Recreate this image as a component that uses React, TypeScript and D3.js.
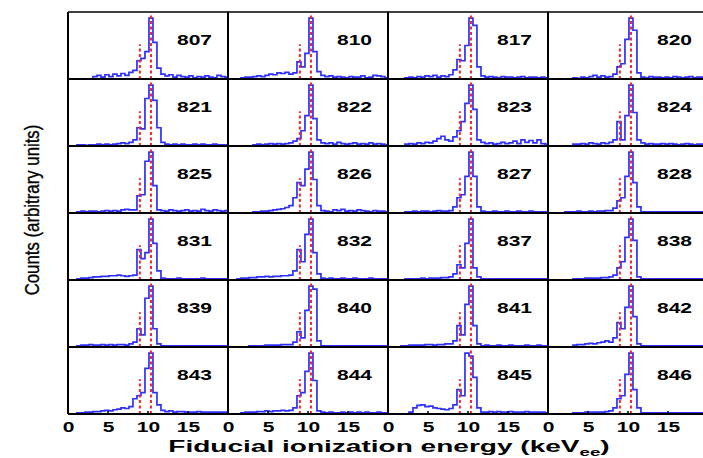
import React from 'react';
import * as d3 from 'd3';

// canvas
const width = 703;
const height = 458;
const left = 68;
const top = 12;
const panelW = 160;
const panelH = 67;
const nCols = 4;

// energy binning (keV)
const binStart = 0.12;
const binWidth = 0.5;
const mainLine = 10.37;
const sideLine = 8.98;
const xTicks = [0, 5, 10, 15];

// run numbers, one per panel
const runs = [807, 810, 817, 820, 821, 822, 823, 824, 825, 826, 827, 828,
  831, 832, 837, 838, 839, 840, 841, 842, 843, 844, 845, 846];

// per run spectra (peak normalised to 100)
const h807 = [0,0,0,0,0,0,4,6,3,7,4,8,5,9,6,11,14,30,34,45,100,60,18,8,5,7,3,6,4,3,5,2,4,3,5,3,2,6,4,3];
const h810 = [0,0,0,2,3,3,4,5,4,6,8,7,10,9,11,8,10,28,20,42,100,45,12,6,4,5,3,4,3,2,4,3,3,5,2,3,6,5,4,2];
const h817 = [0,0,0,0,2,3,2,4,3,5,4,6,3,5,4,7,15,32,30,55,100,88,20,5,3,4,3,2,4,3,3,2,3,4,2,3,3,2,3,2];
const h820 = [0,0,0,0,0,0,2,1,3,2,4,6,3,5,3,4,8,20,25,65,100,80,10,3,2,4,3,3,2,3,2,4,3,2,3,4,2,3,3,2];
const h821 = [0,0,2,2,1,2,2,3,2,3,2,3,4,5,4,6,10,30,28,78,100,75,30,6,3,2,3,2,3,2,2,3,2,3,2,2,3,2,2,2];
const h822 = [0,0,0,0,0,0,2,3,2,3,4,3,4,3,4,5,8,12,25,50,100,45,10,5,4,5,3,6,4,3,4,5,3,4,3,5,3,4,3,2];
const h823 = [0,0,0,0,3,4,3,5,4,6,5,8,12,16,10,8,15,25,40,70,100,60,10,6,4,5,3,4,6,4,5,8,4,10,6,9,5,10,4,3];
const h824 = [0,0,0,0,0,0,3,3,4,3,5,4,3,5,4,6,10,40,10,50,100,55,10,5,3,4,3,3,4,3,4,3,2,3,4,3,2,3,3,2];
const h825 = [0,0,2,3,2,3,3,2,3,4,3,4,3,5,6,5,5,28,30,85,100,45,5,4,3,5,4,3,4,5,3,4,3,6,4,3,5,4,3,4];
const h826 = [0,0,0,0,0,0,2,2,3,3,4,5,6,7,9,12,25,50,45,72,100,55,12,4,3,2,5,4,6,3,4,3,5,4,3,2,4,3,3,2];
const h827 = [0,0,0,0,2,2,3,2,3,3,2,3,4,3,3,4,10,25,30,60,100,60,10,3,2,2,3,2,2,3,2,2,3,2,2,3,2,2,2,2];
const h828 = [0,0,0,0,2,2,2,3,2,2,3,2,3,3,4,4,8,20,25,60,100,50,10,2,2,2,2,2,2,2,2,2,2,2,2,2,2,2,2,2];
const h831 = [0,0,2,3,3,4,5,5,6,6,7,7,8,7,6,7,8,50,35,45,100,60,15,3,2,2,2,3,2,2,2,2,2,3,2,2,2,2,2,2];
const h832 = [0,0,2,3,3,4,4,5,5,6,5,6,6,7,7,8,15,50,30,75,100,45,10,3,2,3,2,2,3,2,2,3,2,2,2,3,2,2,2,2];
const h837 = [0,0,0,0,2,2,2,2,3,2,3,3,3,4,4,5,10,25,20,60,100,20,5,2,2,2,2,2,2,2,2,2,2,2,2,2,2,2,2,2];
const h838 = [0,0,0,0,0,0,2,2,2,3,3,3,3,4,4,5,8,20,30,70,100,65,5,2,2,2,2,2,2,2,2,2,2,2,2,2,2,2,2,2];
const h839 = [0,0,2,3,3,4,3,3,4,3,4,3,4,4,3,5,8,30,20,80,100,30,5,2,2,2,2,2,2,2,2,2,2,2,2,2,2,2,2,2];
const h840 = [0,0,0,0,0,2,2,2,2,3,3,3,3,4,4,4,8,25,15,60,100,95,10,2,2,2,2,2,2,2,2,2,2,2,2,2,2,2,2,2];
const h841 = [0,0,0,2,2,3,3,3,3,4,4,3,4,4,5,5,10,35,20,70,100,35,5,2,3,2,2,3,2,2,3,2,2,2,3,2,2,3,2,2];
const h842 = [0,0,0,0,0,0,3,4,4,5,6,5,7,8,10,8,15,40,30,65,100,50,5,2,2,2,2,2,2,2,2,2,2,2,2,2,2,2,2,2];
const h843 = [0,0,2,2,3,3,4,4,5,6,5,7,8,10,9,12,25,30,35,75,100,35,15,6,4,5,3,4,4,3,3,3,4,3,3,3,3,3,3,3];
const h844 = [0,0,0,2,3,3,3,4,4,5,4,5,5,6,5,6,10,30,35,70,100,55,5,3,2,3,2,2,3,2,3,2,3,2,3,2,2,3,2,2];
const h845 = [0,0,0,0,0,3,10,14,15,12,13,10,9,8,7,9,15,40,30,100,95,60,10,3,3,4,3,4,3,3,4,3,3,3,4,3,3,3,3,2];
const h846 = [0,0,0,0,0,0,2,2,2,3,3,3,3,3,4,5,10,25,30,65,100,40,10,2,2,2,2,2,2,2,2,2,2,2,2,2,2,2,2,2];

const spectra = [h807, h810, h817, h820, h821, h822, h823, h824, h825, h826, h827, h828,
  h831, h832, h837, h838, h839, h840, h841, h842, h843, h844, h845, h846];

const nRows = Math.ceil(runs.length / nCols);
const boldFont = '"Liberation Sans", Arial, Helvetica, sans-serif';
const wide = 1.5; // extended look of the original lettering

const x = d3.scaleLinear().domain([0, 20]).range([0, panelW]);
const y = d3.scaleLinear().domain([0, 110]).range([panelH, 0]);

const stepLine = d3.line<[number, number]>()
  .x(d => x(d[0]))
  .y(d => y(d[1]))
  .curve(d3.curveStepAfter);

function histPoints(vals: number[]): [number, number][] {
  const pts: [number, number][] = vals.map((v, i) => [binStart + i * binWidth, v]);
  pts.push([binStart + vals.length * binWidth, vals[vals.length - 1]]);
  return pts;
}

function Panel({ run, vals, col, row }: { run: number; vals: number[]; col: number; row: number }) {
  const tx = left + col * panelW;
  const ty = top + row * panelH;
  const clipId = 'clip' + run;
  return (
    <g transform={`translate(${tx},${ty})`}>
      <clipPath id={clipId}>
        <rect x={0} y={0} width={panelW} height={panelH} />
      </clipPath>
      <g clipPath={`url(#${clipId})`}>
        <path d={stepLine(histPoints(vals)) || ''} fill="none" stroke="#2f2fff" strokeWidth={1.7} />
        <line x1={x(mainLine)} x2={x(mainLine)} y1={panelH} y2={1}
          stroke="#f0282d" strokeWidth={2} strokeDasharray="3,2.5" />
        <line x1={x(sideLine)} x2={x(sideLine)} y1={panelH} y2={panelH * 0.48}
          stroke="#f0282d" strokeWidth={2} strokeDasharray="3,2.5" />
      </g>
      <text transform={`translate(144,33) scale(${wide},1)`} textAnchor="end" fontFamily={boldFont}
        fontWeight="bold" fontSize={14} fill="#000">{run}</text>
    </g>
  );
}

export default function App() {
  const bottom = top + nRows * panelH;
  const rightEdge = left + nCols * panelW;
  return (
    <svg width={width} height={height} style={{ position: 'absolute', left: 0, top: 0, background: '#fff' }}>
      {runs.map((run, i) => (
        <Panel key={run} run={run} vals={spectra[i]} col={i % nCols} row={Math.floor(i / nCols)} />
      ))}
      {/* grid frame */}
      {d3.range(nRows + 1).map(r => (
        <line key={'h' + r} x1={left} x2={rightEdge} y1={top + r * panelH} y2={top + r * panelH}
          stroke="#000" strokeWidth={r === 0 ? 1.5 : 2} />
      ))}
      {d3.range(nCols + 1).map(c => (
        <line key={'v' + c} x1={left + c * panelW} x2={left + c * panelW} y1={top} y2={bottom}
          stroke="#000" strokeWidth={2} />
      ))}
      {/* x ticks and labels */}
      {d3.range(nCols).map(c => (
        <g key={'t' + c} transform={`translate(${left + c * panelW},0)`}>
          {xTicks.map(t => (
            <g key={t}>
              <line x1={x(t)} x2={x(t)} y1={bottom} y2={bottom - 3} stroke="#000" strokeWidth={1.5} />
              <text transform={`translate(${x(t) + 0.5},432) scale(${wide},1)`} textAnchor="middle"
                fontFamily={boldFont} fontWeight="bold" fontSize={14}>{t}</text>
            </g>
          ))}
        </g>
      ))}
      <text transform={`translate(389,452) scale(1.7,1)`} textAnchor="middle" fontFamily={boldFont}
        fontWeight="bold" fontSize={16.5}>
        Fiducial ionization energy (keV<tspan fontSize={11} dy={4}>ee</tspan><tspan dy={-4}>)</tspan>
      </text>
      <text transform="translate(39,210) rotate(-90) scale(0.84,1)" textAnchor="middle"
        fontFamily={'"Liberation Sans", Arial, sans-serif'} stroke="#000" strokeWidth={0.35}
        fontSize={20}>Counts (arbitrary units)</text>
    </svg>
  );
}
